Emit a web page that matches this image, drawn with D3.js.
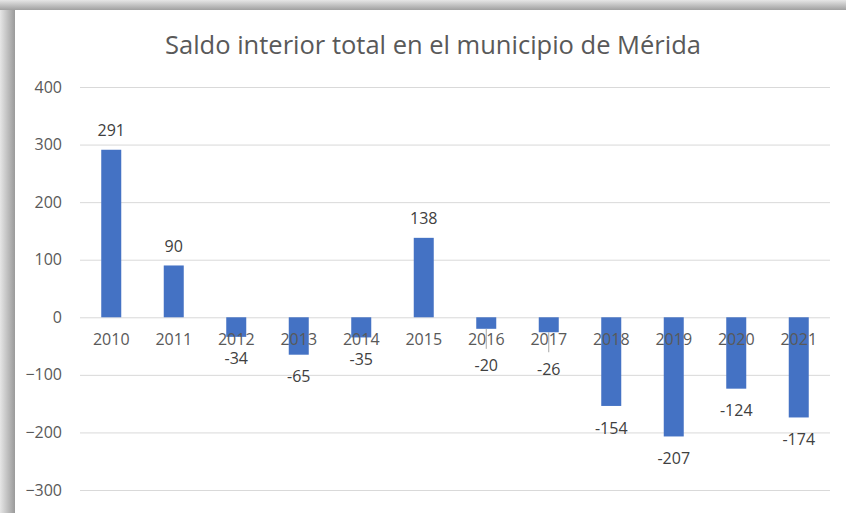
<!DOCTYPE html>
<html>
<head>
<meta charset="utf-8">
<script src="https://cdn.jsdelivr.net/npm/d3@7"></script>
<style>
  body { margin: 0; background: #fff; }
  svg { display: block; }
</style>
</head>
<body>
<svg id="chart" width="846" height="513"></svg>
<script>
var years = ['2010', '2011', '2012', '2013', '2014', '2015', '2016', '2017', '2018', '2019', '2020', '2021'];
var saldo = [291, 90, -34, -65, -35, 138, -20, -26, -154, -207, -124, -174];
var yTicks = [400, 300, 200, 100, 0, -100, -200, -300];
var title = 'Saldo interior total en el municipio de Mérida';

var svg = d3.select('#chart');
var font = "'Open Sans', 'Noto Sans', sans-serif";

// shadow frame around the chart panel
var defs = svg.append('defs');
var gl = defs.append('linearGradient').attr('id', 'shadowL').attr('x1', 0).attr('x2', 1).attr('y1', 0).attr('y2', 0);
gl.append('stop').attr('offset', '0%').attr('stop-color', '#e6e6e6');
gl.append('stop').attr('offset', '100%').attr('stop-color', '#9a9a9a');
var gt = defs.append('linearGradient').attr('id', 'shadowT').attr('x1', 0).attr('x2', 0).attr('y1', 0).attr('y2', 1);
gt.append('stop').attr('offset', '0%').attr('stop-color', '#e6e6e6');
gt.append('stop').attr('offset', '100%').attr('stop-color', '#a0a0a0');

svg.append('rect').attr('x', 0).attr('y', 0).attr('width', 846).attr('height', 513).attr('fill', '#d9d9d9');
svg.append('rect').attr('x', 0).attr('y', 0).attr('width', 15).attr('height', 513).attr('fill', 'url(#shadowL)');
svg.append('rect').attr('x', 0).attr('y', 0).attr('width', 846).attr('height', 10).attr('fill', 'url(#shadowT)');
svg.append('rect').attr('x', 15).attr('y', 10).attr('width', 831).attr('height', 503).attr('fill', '#fff');

var x = d3.scaleBand().domain(years).range([80, 830]).paddingInner(0.68).paddingOuter(0.34);
var y = d3.scaleLinear().domain([-300, 400]).range([490, 87]);

// gridlines
svg.append('g').selectAll('line').data(yTicks).enter().append('line')
  .attr('x1', 80).attr('x2', 830)
  .attr('y1', function (d) { return y(d) + 0.5; })
  .attr('y2', function (d) { return y(d) + 0.5; })
  .attr('stroke', '#d9d9d9').attr('stroke-width', 1);

// y axis labels
var yAxis = d3.axisLeft(y).tickValues(yTicks).tickSize(0).tickPadding(0);
var ya = svg.append('g').attr('transform', 'translate(62,0)').call(yAxis);
ya.select('.domain').remove();
ya.selectAll('text').attr('fill', '#595959').style('font-family', font).style('font-size', '16px');

// bars
svg.append('g').selectAll('rect').data(saldo).enter().append('rect')
  .attr('x', function (d, i) { return x(years[i]); })
  .attr('width', x.bandwidth())
  .attr('y', function (d) { return y(Math.max(0, d)); })
  .attr('height', function (d) { return Math.abs(y(d) - y(0)); })
  .attr('fill', '#4472c4');

// label position: small negatives get pushed clear of the category labels
function labelY(d) {
  if (d >= 0) return y(d) - 19;
  if (d > -30) return y(d) + 37;
  return y(d) + 22;
}

// leader lines for pushed labels
svg.append('g').selectAll('line').data(saldo).enter()
  .filter(function (d) { return d < 0 && d > -30; })
  .append('line')
  .attr('x1', function (d) { return x(years[saldo.indexOf(d)]) + x.bandwidth() / 2; })
  .attr('x2', function (d) { return x(years[saldo.indexOf(d)]) + x.bandwidth() / 2; })
  .attr('y1', function (d) { return y(d); })
  .attr('y2', function (d) { return labelY(d) - 17; })
  .attr('stroke', '#a6a6a6').attr('stroke-width', 1);

// category labels next to zero line
var xAxis = d3.axisBottom(x).tickSize(0).tickPadding(0);
var xa = svg.append('g').attr('transform', 'translate(0,' + (y(0) + 16) + ')').call(xAxis);
xa.select('.domain').remove();
xa.selectAll('text').attr('fill', '#595959').style('font-family', font).style('font-size', '16px');

// data labels
svg.append('g').selectAll('text').data(saldo).enter().append('text')
  .attr('x', function (d, i) { return x(years[i]) + x.bandwidth() / 2; })
  .attr('y', labelY)
  .attr('dy', '0.35em')
  .attr('text-anchor', 'middle')
  .attr('fill', '#404040')
  .style('font-family', font).style('font-size', '16px')
  .text(function (d) { return d; });

// title
svg.append('text')
  .attr('x', 433).attr('y', 45).attr('dy', '0.35em')
  .attr('text-anchor', 'middle')
  .attr('fill', '#595959')
  .style('font-family', font).style('font-size', '25.5px')
  .text(title);
</script>
</body>
</html>
